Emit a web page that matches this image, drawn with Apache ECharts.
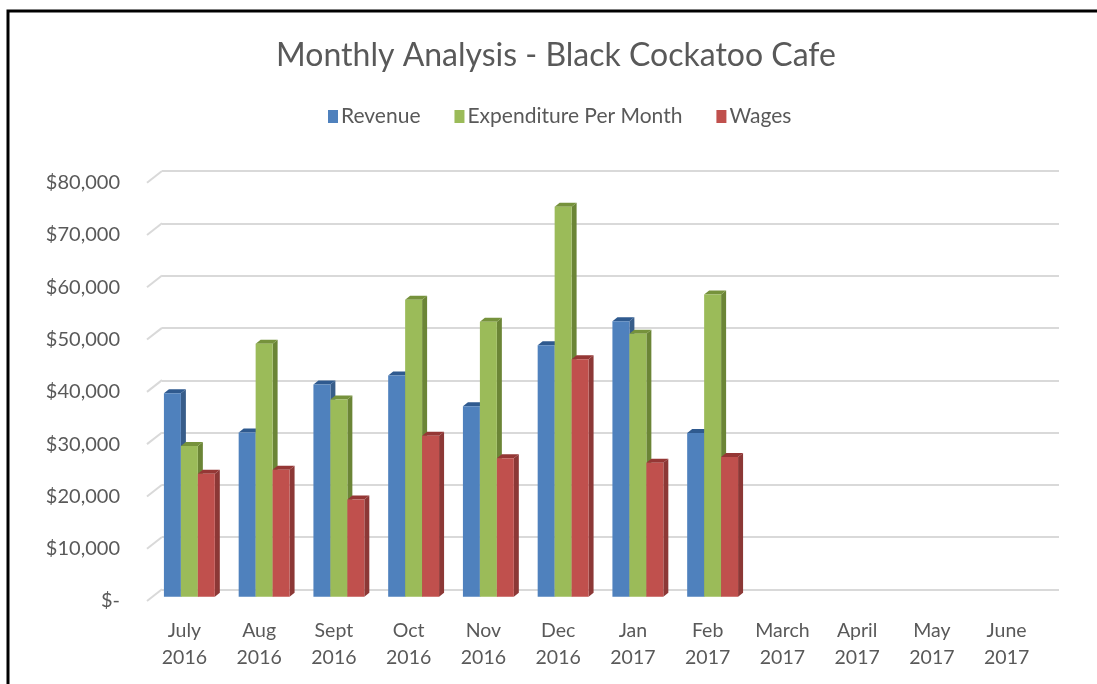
<!DOCTYPE html>
<html>
<head>
<meta charset="utf-8">
<script src="https://cdn.jsdelivr.net/npm/echarts@6/dist/echarts.min.js"></script>
<style>
  html, body { margin: 0; padding: 0; background: #fff; }
  #chart { width: 1097px; height: 684px; }
</style>
</head>
<body>
<div id="chart"></div>
<script>
// data
const months = ['July\n2016', 'Aug\n2016', 'Sept\n2016', 'Oct\n2016', 'Nov\n2016', 'Dec\n2016',
  'Jan\n2017', 'Feb\n2017', 'March\n2017', 'April\n2017', 'May\n2017', 'June\n2017'];
const revenue = [38900, 31400, 40600, 42300, 36400, 48100, 52700, 31300, null, null, null, null];
const expenditure = [28800, 48400, 37700, 56800, 52600, 74600, 50300, 57800, null, null, null, null];
const wages = [23500, 24300, 18600, 30800, 26500, 45400, 25600, 26700, null, null, null, null];
const yTicks = [0, 10000, 20000, 30000, 40000, 50000, 60000, 70000, 80000];

const seriesNames = ['Revenue', 'Expenditure Per Month', 'Wages'];
const faceColors = [
  { front: '#4f81bd', side: '#385d8a', top: '#2f5a8f' },
  { front: '#9bbb59', side: '#6b8536', top: '#76923c' },
  { front: '#c0504d', side: '#8c3836', top: '#953735' }
];

const textColor = '#595959';
const font = 'Lato, "Open Sans", sans-serif';

// 3d look: bars sit a bit behind the front plane, back wall further
const barShift = [5, -4.3];
const depth = [5, -4];

function money(v) {
  if (v === 0) return '$-';
  return '$' + v.toLocaleString('en-US');
}

function barRenderer(k) {
  return function (params, api) {
    const v = api.value(1);
    if (v == null || isNaN(v)) return;
    const cat = api.value(0);
    const band = api.size([1, 0])[0];
    const w = band * 0.227;
    const base = api.coord([cat, 0]);
    const top = api.coord([cat, v]);
    const x0 = base[0] - 1.5 * w + k * w + barShift[0];
    const x1 = x0 + w;
    const yb = base[1] + barShift[1];
    const yt = top[1] + barShift[1];
    const c = faceColors[k];
    return {
      type: 'group',
      children: [
        {
          type: 'polygon',
          shape: { points: [[x1, yb], [x1 + depth[0], yb + depth[1]], [x1 + depth[0], yt + depth[1]], [x1, yt]] },
          style: { fill: c.side }
        },
        {
          type: 'polygon',
          shape: { points: [[x0, yt], [x1, yt], [x1 + depth[0], yt + depth[1]], [x0 + depth[0], yt + depth[1]]] },
          style: { fill: c.top }
        },
        {
          type: 'rect',
          shape: { x: x0, y: yt, width: w, height: yb - yt },
          style: { fill: c.front }
        }
      ]
    };
  };
}

const seriesData = [revenue, expenditure, wages];

const barSeries = seriesData.map(function (vals, k) {
  return {
    name: seriesNames[k],
    type: 'custom',
    xAxisIndex: 0,
    yAxisIndex: 0,
    itemStyle: { color: faceColors[k].front },
    renderItem: barRenderer(k),
    encode: { x: 0, y: 1 },
    data: vals.map(function (v, i) { return [i, v]; }),
    z: 3 + k
  };
});

// little slanted ticks joining the front labels to the back wall
const wallTicks = {
  type: 'custom',
  xAxisIndex: 0,
  yAxisIndex: 0,
  silent: true,
  renderItem: function (params, api) {
    const p = api.coord([0, api.value(1)]);
    const x = params.coordSys.x;
    return {
      type: 'line',
      shape: { x1: x, y1: p[1], x2: x + 15, y2: p[1] - 11.7 },
      style: { stroke: '#d9d9d9', lineWidth: 2 }
    };
  },
  data: yTicks.map(function (t) { return [0, t]; }),
  z: 1
};

const chart = echarts.init(document.getElementById('chart'));
chart.setOption({
  backgroundColor: '#ffffff',
  animation: false,
  title: {
    text: 'Monthly Analysis - Black Cockatoo Cafe',
    left: 551,
    top: 35,
    textAlign: 'center',
    textStyle: { fontFamily: font, fontSize: 32, fontWeight: 'normal', color: textColor }
  },
  legend: {
    top: 101,
    left: 323,
    itemWidth: 10,
    itemHeight: 13,
    itemGap: 34,
    icon: 'rect',
    data: seriesNames,
    textStyle: { fontFamily: font, fontSize: 21, color: textColor, padding: [0, 0, 0, -2] }
  },
  grid: [
    { left: 147, right: 53, top: 182.7, bottom: 83 },
    { left: 162, right: 38, top: 171, bottom: 94.5 }
  ],
  xAxis: [
    {
      type: 'category',
      gridIndex: 0,
      data: months,
      axisLine: { show: false },
      axisTick: { show: false },
      axisLabel: { fontFamily: font, fontSize: 19.5, color: textColor, lineHeight: 27, margin: 16 }
    },
    {
      type: 'category',
      gridIndex: 1,
      data: months,
      show: false
    }
  ],
  yAxis: [
    {
      type: 'value',
      gridIndex: 0,
      min: 0,
      max: 80000,
      interval: 10000,
      axisLine: { show: false },
      axisTick: { show: false },
      splitLine: { show: false },
      axisLabel: { fontFamily: font, fontSize: 20, color: textColor, margin: 27, formatter: money }
    },
    {
      type: 'value',
      gridIndex: 1,
      min: 0,
      max: 80000,
      interval: 10000,
      axisLine: { show: false },
      axisTick: { show: false },
      axisLabel: { show: false },
      splitLine: { show: true, lineStyle: { color: '#d9d9d9', width: 2 } }
    }
  ],
  series: [wallTicks].concat(barSeries),
  graphic: [
    {
      type: 'polyline',
      shape: { points: [[8, 700], [8, 11], [1100, 11]] },
      style: { stroke: '#000', lineWidth: 3, fill: null },
      z: 10
    }
  ]
});
</script>
</body>
</html>
